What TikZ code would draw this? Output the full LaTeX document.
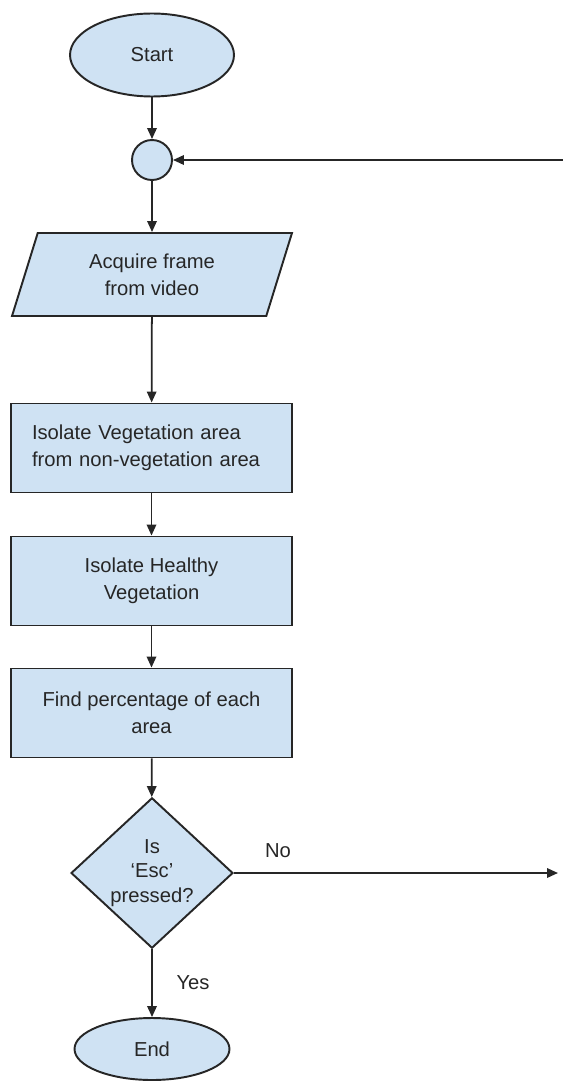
\documentclass[tikz,border=0pt]{standalone}
\usepackage{fontspec}
\setmainfont{Liberation Sans}
\usetikzlibrary{shapes.geometric,arrows.meta}
\definecolor{boxfill}{HTML}{CFE2F3}
\definecolor{inkline}{HTML}{262626}
\begin{document}
\begin{tikzpicture}[x=0.02cm,y=-0.02cm,line width=1pt,
  every node/.style={font=\fontsize{11.5}{15.5}\selectfont,text=inkline},
  shapebox/.style={draw=inkline,fill=boxfill,line width=1.1pt},
  terminal/.style={shapebox,ellipse,inner sep=0pt},
  process/.style={shapebox,rectangle,minimum width=5.62cm,minimum height=1.78cm,inner sep=0pt,align=center},
  flow/.style={draw=inkline,-{Triangle[length=2.2mm,width=1.9mm]}}]
  \useasboundingbox (0,0) rectangle (563,1088);
  % start terminal and join circle
  \node[terminal,minimum width=3.28cm,minimum height=1.66cm] (start) at (152,55) {Start};
  \node[shapebox,circle,minimum size=0.8cm,inner sep=0pt] (join) at (152,160) {};
  % input: frame from video
  \node[shapebox,trapezium,trapezium left angle=72.6,trapezium right angle=107.4,
    trapezium stretches body,minimum width=5.6cm,minimum height=1.66cm,inner xsep=0pt,
    inner ysep=0.4cm,align=center] (frame) at (152,274.5) {Acquire frame\\from video};
  % processing steps
  \node[process,align=left,text width=4.78cm,inner xsep=0.42cm] (veg) at (151.5,448)
    {Isolate Vegetation area\\from non-vegetation area};
  \node[process] (healthy) at (151.5,581) {Isolate Healthy\\Vegetation};
  \node[process] (pct) at (151.5,713) {Find percentage of each\\area};
  % decision
  \node[shapebox,diamond,minimum width=3.24cm,minimum height=2.84cm,inner sep=0pt,
    align=center,font=\fontsize{11.5}{14}\selectfont] (esc) at (152,873) {Is\\`Esc'\\pressed?};
  \node (no) at (278,851) {No};
  \node (yes) at (193,983) {Yes};
  % end terminal
  \node[terminal,minimum width=3.1cm,minimum height=1.24cm] (end) at (152,1049) {End};
  % loop ends, cut at the right edge
  \coordinate (loopin) at (563,160);
  \coordinate (loopout) at (558,873);
  % connectors
  \draw[flow] (start) -- (join);
  \draw[flow] (join) -- (frame);
  \draw[flow] (frame) -- (veg);
  \draw[flow] (veg) -- (healthy);
  \draw[flow] (healthy) -- (pct);
  \draw[flow] (pct) -- (esc);
  \draw[flow] (esc) -- (end);
  \draw[flow] (esc.east) -- (loopout);
  \draw[flow] (loopin) -- (join);
\end{tikzpicture}
\end{document}
